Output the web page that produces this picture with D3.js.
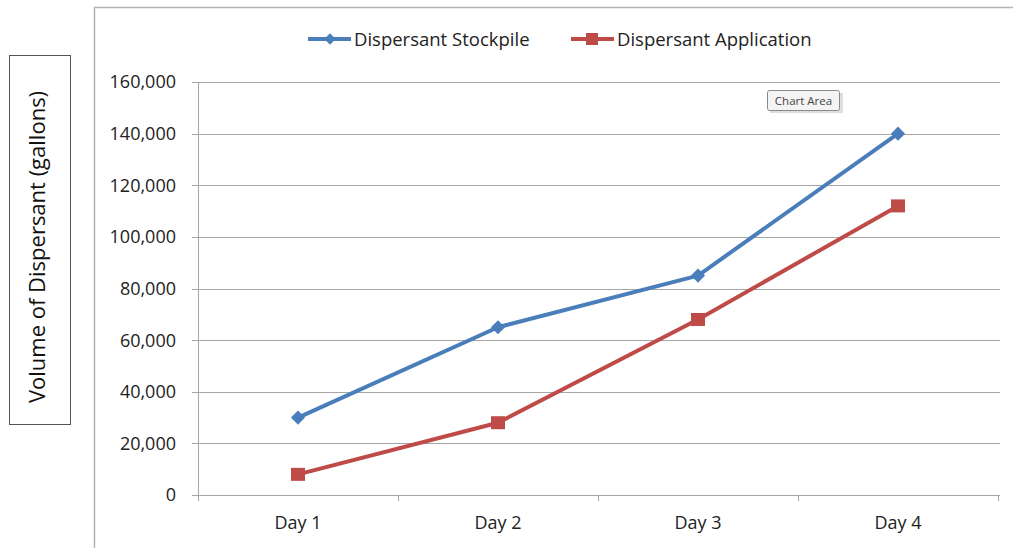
<!DOCTYPE html>
<html><head><meta charset="utf-8">
<script src="https://cdn.jsdelivr.net/npm/d3@7/dist/d3.min.js"></script>
<style>body{margin:0;background:#fff;}svg{display:block;font-family:"Open Sans",Lato,sans-serif;}</style>
</head><body>
<script>
const categories = ["Day 1","Day 2","Day 3","Day 4"];
const stockpile = [30000, 65000, 85000, 140000];
const application = [8000, 28000, 68000, 112000];
const yTicks = [0,20000,40000,60000,80000,100000,120000,140000,160000];
const seriesNames = ["Dispersant Stockpile","Dispersant Application"];

const W=1013,H=548;
const svg=d3.select("body").append("svg").attr("width",W).attr("height",H);
const L=198,R=998,T=82,B=495;
const x=d3.scaleBand().domain(categories).range([L,R]);
const y=d3.scaleLinear().domain([0,160000]).range([B,T]);
const grid="#a6a6a6";

svg.append("path").attr("d",`M94.5,${H} V7.5 H${W}`).attr("fill","none").attr("stroke","#b3b3b3").attr("stroke-width",1.5);

svg.append("g").selectAll("line").data(yTicks).join("line")
 .attr("x1",L-6).attr("x2",R+2).attr("y1",d=>Math.round(y(d))+0.5).attr("y2",d=>Math.round(y(d))+0.5)
 .attr("stroke",grid).attr("stroke-width",1);
svg.append("line").attr("x1",L+0.5).attr("x2",L+0.5).attr("y1",T).attr("y2",B+6).attr("stroke",grid);
const xt=categories.map(c=>x(c)).concat([R]);
svg.append("g").selectAll("line").data(xt).join("line")
 .attr("x1",d=>Math.round(d)+0.5).attr("x2",d=>Math.round(d)+0.5).attr("y1",B).attr("y2",B+6).attr("stroke",grid);

svg.append("g").selectAll("text").data(yTicks).join("text")
 .attr("x",176).attr("y",d=>y(d)).attr("dy","0.36em").attr("text-anchor","end")
 .attr("font-size",18).attr("fill","#222").text(d=>d3.format(",")(d));
svg.append("g").selectAll("text").data(categories).join("text")
 .attr("x",d=>x(d)+x.bandwidth()/2).attr("y",523).attr("dy","0.36em").attr("text-anchor","middle")
 .attr("font-size",18).attr("fill","#222").text(d=>d);

svg.append("rect").attr("x",9.5).attr("y",55.5).attr("width",61).attr("height",369).attr("fill","#fff").attr("stroke","#555").attr("stroke-width",1);
svg.append("text").attr("transform","translate(37,247) rotate(-90)").attr("text-anchor","middle").attr("dy","0.36em")
 .attr("font-size",22).attr("fill","#111").text("Volume of Dispersant (gallons)");

const cx=d=>x(d)+x.bandwidth()/2;
const line=d3.line().x((d,i)=>cx(categories[i])).y(d=>y(d));
const blue="#4a7ebb",red="#be4b48";
svg.append("path").datum(stockpile).attr("d",line).attr("fill","none").attr("stroke",blue).attr("stroke-width",4).attr("stroke-linejoin","round");
svg.append("path").datum(application).attr("d",line).attr("fill","none").attr("stroke",red).attr("stroke-width",4).attr("stroke-linejoin","round");
svg.append("g").selectAll("path").data(stockpile).join("path")
 .attr("d",d3.symbol().type(d3.symbolSquare).size(100)).attr("transform",(d,i)=>`translate(${cx(categories[i])},${y(d)}) rotate(45)`).attr("fill",blue);
svg.append("g").selectAll("rect").data(application).join("rect")
 .attr("x",(d,i)=>cx(categories[i])-7).attr("y",d=>y(d)-6.5).attr("width",14).attr("height",13).attr("fill",red);

const lg=svg.append("g");
lg.append("line").attr("x1",308).attr("x2",351).attr("y1",39).attr("y2",39).attr("stroke",blue).attr("stroke-width",4);
lg.append("path").attr("d",d3.symbol().type(d3.symbolSquare).size(64)).attr("transform","translate(330,39) rotate(45)").attr("fill",blue);
lg.append("text").attr("x",354).attr("y",39).attr("dy","0.36em").attr("font-size",18.5).attr("fill","#222").text(seriesNames[0]);
lg.append("line").attr("x1",571).attr("x2",614).attr("y1",39).attr("y2",39).attr("stroke",red).attr("stroke-width",4);
lg.append("rect").attr("x",586).attr("y",33).attr("width",12).attr("height",12).attr("fill",red);
lg.append("text").attr("x",617).attr("y",39).attr("dy","0.36em").attr("font-size",18.5).attr("fill","#222").text(seriesNames[1]);

const tt=svg.append("g");
tt.append("rect").attr("x",770).attr("y",93).attr("width",73).attr("height",20).attr("fill","#c8c8c8").attr("opacity",0.6);
tt.append("rect").attr("x",767.5).attr("y",90.5).attr("width",72).attr("height",20).attr("rx",2).attr("fill","#f4f4f4").attr("stroke","#8a8a8a");
tt.append("text").attr("x",803.5).attr("y",101).attr("dy","0.36em").attr("text-anchor","middle").attr("font-size",11.5).attr("fill","#444").text("Chart Area");
</script>
</body></html>
